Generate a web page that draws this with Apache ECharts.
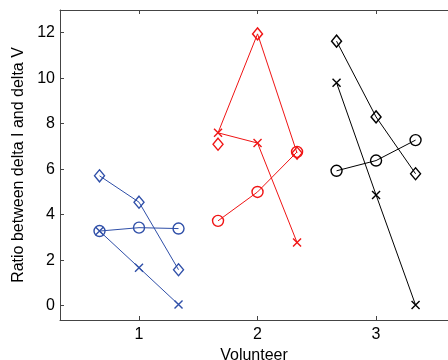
<!DOCTYPE html>
<html>
<head>
<meta charset="utf-8">
<script src="https://cdn.jsdelivr.net/npm/echarts@6/dist/echarts.min.js"></script>
<style>
  html, body { margin: 0; padding: 0; background: #fff; }
  #chart { width: 448px; height: 360px; }
</style>
</head>
<body>
<div id="chart"></div>
<script>
// volunteers and the offset of the three measurements around each one
var volunteers = [1, 2, 3];
var offsets = [-1 / 3, 0, 1 / 3];
var xTicks = [1, 2, 3];
var yTicks = [0, 2, 4, 6, 8, 10, 12];

// values per volunteer (left, middle, right point)
var blueDiamond = [5.71, 4.55, 1.58];
var blueCircle = [3.28, 3.43, 3.39];
var blueCross = [3.28, 1.67, 0.05];

var redDiamond = [7.1, 11.95, 6.71];
var redDiamondLine = [7.6, 11.95, 6.71]; // the joining line starts at the cross
var redCircle = [3.73, 5.0, 6.76];
var redCross = [7.6, 7.15, 2.78];

var blackDiamond = [11.63, 8.3, 5.8];
var blackCircle = [5.93, 6.38, 7.28];
var blackCross = [9.8, 4.87, 0.03];

var BLUE = "#2f4fa8";
var RED = "#f01414";
var BLACK = "#000";
var CROSS = "path://M0,0L10,10M10,0L0,10";

function pts(v, values) {
  return values.map(function (y, i) {
    return [v + offsets[i], y];
  });
}

// markers are hollow like the matlab ones, the line runs through them
function mk(v, values, color, symbol, size, noLine) {
  return {
    type: "line",
    data: pts(v, values),
    symbol: symbol,
    symbolSize: size,
    showAllSymbol: true,
    silent: true,
    z: 3,
    lineStyle: noLine ? { width: 0, opacity: 0 } : { color: color, width: 1 },
    itemStyle: { color: "none", borderColor: color, borderWidth: 1.4 },
  };
}

function lineOnly(v, values, color) {
  return {
    type: "line",
    data: pts(v, values),
    symbol: "none",
    silent: true,
    z: 2,
    lineStyle: { color: color, width: 1 },
  };
}

var series = [
  mk(volunteers[0], blueDiamond, BLUE, "diamond", [10, 12]),
  mk(volunteers[0], blueCircle, BLUE, "circle", 11),
  mk(volunteers[0], blueCross, BLUE, CROSS, 8),

  lineOnly(volunteers[1], redDiamondLine, RED),
  mk(volunteers[1], redDiamond, RED, "diamond", [10, 12], true),
  mk(volunteers[1], redCircle, RED, "circle", 11),
  mk(volunteers[1], redCross, RED, CROSS, 8),

  mk(volunteers[2], blackDiamond, BLACK, "diamond", [10, 12]),
  mk(volunteers[2], blackCircle, BLACK, "circle", 11),
  mk(volunteers[2], blackCross, BLACK, CROSS, 8),
];

var axisColor = "#444";
var font = "Liberation Sans, Arial, sans-serif";

var myChart = echarts.init(document.getElementById("chart"));
myChart.setOption({
  animation: false,
  backgroundColor: "#fff",
  // the right side of the box is cut off by the picture edge
  grid: { left: 60, top: 10, right: 0, bottom: 40, containLabel: false, outerBoundsMode: "none" },
  xAxis: [
    {
      type: "value",
      min: 1 / 3,
      max: 3.607,
      name: "Volunteer",
      nameLocation: "middle",
      nameGap: 25,
      nameTextStyle: { fontFamily: font, fontSize: 16, color: "#000" },
      axisLine: { show: true, onZero: false, lineStyle: { color: axisColor } },
      axisTick: { show: true, inside: true, length: 4, customValues: xTicks, lineStyle: { color: axisColor, width: 1 } },
      axisLabel: { customValues: xTicks, margin: 7, fontFamily: font, fontSize: 16, color: "#000" },
      splitLine: { show: false },
    },
    {
      type: "value",
      position: "top",
      min: 1 / 3,
      max: 3.607,
      axisLine: { show: true, onZero: false, lineStyle: { color: axisColor } },
      axisTick: { show: true, inside: true, length: 4, customValues: xTicks, lineStyle: { color: axisColor, width: 1 } },
      axisLabel: { show: false },
      splitLine: { show: false },
    },
  ],
  yAxis: {
    type: "value",
    min: -0.63,
    max: 13,
    name: "Ratio between delta I and delta V",
    nameLocation: "middle",
    nameGap: 32,
    nameTextStyle: { fontFamily: font, fontSize: 16, color: "#000" },
    axisLine: { show: true, onZero: false, lineStyle: { color: axisColor } },
    axisTick: { show: true, inside: true, length: 4, customValues: yTicks, lineStyle: { color: axisColor, width: 1 } },
    axisLabel: { customValues: yTicks, margin: 5, fontFamily: font, fontSize: 16, color: "#000" },
    splitLine: { show: false },
  },
  series: series,
});
</script>
</body>
</html>
